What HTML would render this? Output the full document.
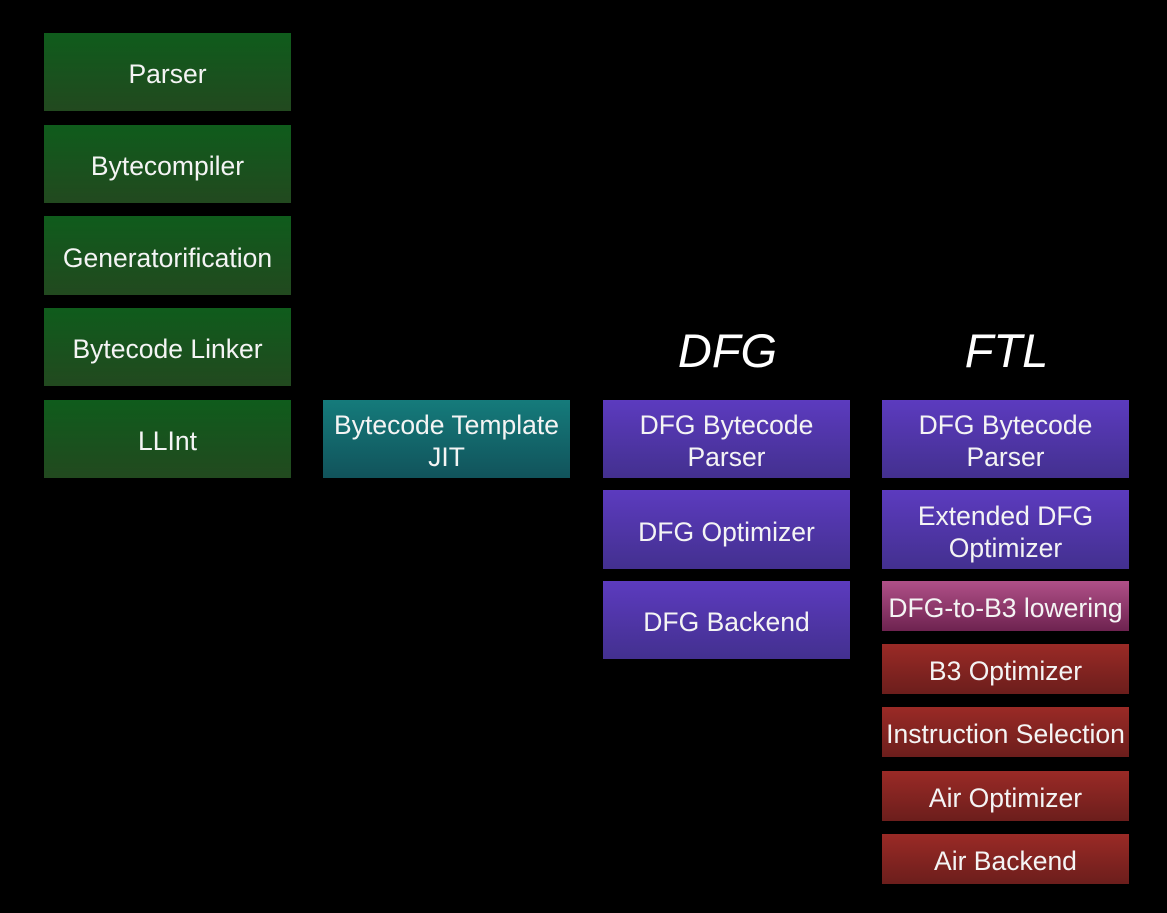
<!DOCTYPE html>
<html><head><style>
body{margin:0;width:1167px;height:913px;background:#000;position:relative;overflow:hidden;font-family:"Liberation Sans",sans-serif;}
.b{position:absolute;display:flex;align-items:center;justify-content:center;text-align:center;color:#f4f4f4;font-size:26.5px;line-height:32px;width:247px;padding-top:4px;box-sizing:border-box;white-space:nowrap;}
.g{background:linear-gradient(#0f5c1c,#22491f);}
.t{background:linear-gradient(#157b7b,#11535b);}
.p{background:linear-gradient(#5c3bbf,#43308f);}
.m{background:linear-gradient(#b05088,#6e2350);}
.r{background:linear-gradient(#9a2a26,#6c1e1c);}
.h{position:absolute;color:#fff;font-style:italic;font-size:47px;width:247px;text-align:center;top:323px;}
</style></head><body>
<div class="b g" style="left:44px;top:33px;height:78px">Parser</div>
<div class="b g" style="left:44px;top:125px;height:78px">Bytecompiler</div>
<div class="b g" style="left:44px;top:216px;height:79px">Generatorification</div>
<div class="b g" style="left:44px;top:308px;height:78px">Bytecode Linker</div>
<div class="b g" style="left:44px;top:400px;height:78px">LLInt</div>
<div class="b t" style="left:323px;top:400px;height:78px">Bytecode Template<br>JIT</div>
<div class="h" style="left:604px">DFG</div>
<div class="h" style="left:883px">FTL</div>
<div class="b p" style="left:603px;top:400px;height:78px">DFG Bytecode<br>Parser</div>
<div class="b p" style="left:603px;top:490px;height:79px">DFG Optimizer</div>
<div class="b p" style="left:603px;top:581px;height:78px">DFG Backend</div>
<div class="b p" style="left:882px;top:400px;height:78px">DFG Bytecode<br>Parser</div>
<div class="b p" style="left:882px;top:490px;height:79px">Extended DFG<br>Optimizer</div>
<div class="b m" style="left:882px;top:581px;height:50px">DFG-to-B3 lowering</div>
<div class="b r" style="left:882px;top:644px;height:50px">B3 Optimizer</div>
<div class="b r" style="left:882px;top:707px;height:50px">Instruction Selection</div>
<div class="b r" style="left:882px;top:771px;height:50px">Air Optimizer</div>
<div class="b r" style="left:882px;top:834px;height:50px">Air Backend</div>
</body></html>
